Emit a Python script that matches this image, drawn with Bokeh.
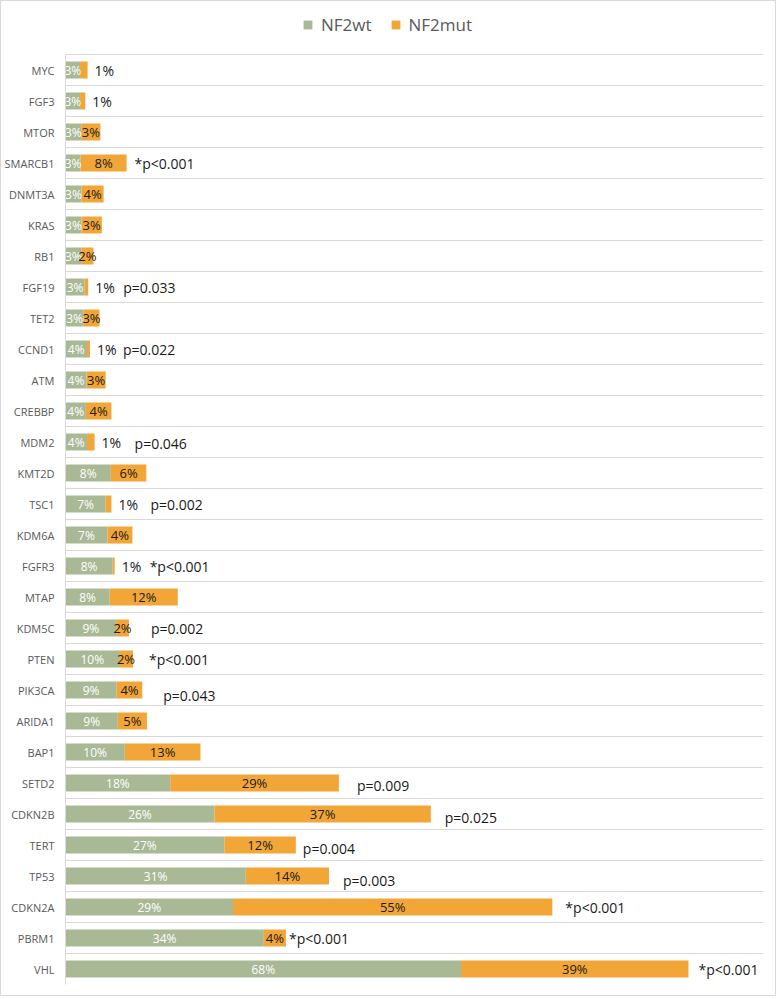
from bokeh.plotting import figure
from bokeh.models import (ColumnDataSource, Range1d, FixedTicker, Legend, LegendItem)
from bokeh.core.properties import value
from bokeh.embed import file_html
from bokeh.resources import INLINE

# ---- data (top to bottom) ----
genes = ["MYC", "FGF3", "MTOR", "SMARCB1", "DNMT3A", "KRAS", "RB1", "FGF19", "TET2",
         "CCND1", "ATM", "CREBBP", "MDM2", "KMT2D", "TSC1", "KDM6A", "FGFR3", "MTAP",
         "KDM5C", "PTEN", "PIK3CA", "ARIDA1", "BAP1", "SETD2", "CDKN2B", "TERT", "TP53",
         "CDKN2A", "PBRM1", "VHL"]
nf2wt = [2.5, 2.5, 2.7, 2.6, 2.75, 2.75, 2.7, 3.3, 3.1, 3.7, 3.6, 3.5, 3.7, 7.8, 6.9,
         7.2, 8.1, 7.6, 8.7, 9.2, 8.8, 9.0, 10.2, 18.0, 25.6, 27.3, 31.0, 28.8, 34.1, 68.0]
nf2mut = [1.3, 0.9, 3.3, 7.9, 3.8, 3.5, 2.1, 0.6, 2.75, 0.5, 3.3, 4.4, 1.3, 6.1, 1.0,
          4.3, 0.35, 11.7, 2.2, 2.4, 4.4, 5.0, 13.0, 29.0, 37.2, 12.3, 14.3, 54.9, 3.8, 39.1]
wt_labels = ["3%", "3%", "3%", "3%", "3%", "3%", "3%", "3%", "3%", "4%", "4%", "4%", "4%",
             "8%", "7%", "7%", "8%", "8%", "9%", "10%", "9%", "9%", "10%", "18%", "26%",
             "27%", "31%", "29%", "34%", "68%"]
mut_labels = ["1%", "1%", "3%", "8%", "4%", "3%", "2%", "1%", "3%", "1%", "3%", "4%", "1%",
              "6%", "1%", "4%", "1%", "12%", "2%", "2%", "4%", "5%", "13%", "29%", "37%",
              "12%", "14%", "55%", "4%", "39%"]
pvalues = ["", "", "", "*p<0.001", "", "", "", "p=0.033", "", "p=0.022", "", "", "p=0.046",
           "", "p=0.002", "", "*p<0.001", "", "p=0.002", "*p<0.001", "p=0.043", "", "",
           "p=0.009", "p=0.025", "p=0.004", "p=0.003", "*p<0.001", "*p<0.001", "*p<0.001"]

# ---- layout helpers (pixels) ----
p_gap = [0, 0, 0, 8, 0, 0, 0, 35, 0, 33, 0, 0, 40, 0, 39, 0, 35, 0, 22, 16, 21, 0, 0,
         18, 14, 7, 14, 13, 3, 10]
p_dy = [0, 0, 0, 0, 0, 0, 0, 0, 0, 0, 0, 0, 1, 0, 0, 0, 0, 0, 0, 0, 5, 0, 0,
        2, 3, 3, 4, 0, 0, 0]

GREEN = "#A9B996"
ORANGE = "#F2A638"
FONT = "Open Sans"
ROW_PX = 31.0
TOP_PX = 53.0   # room for the legend above the first row

n = len(genes)
ypos = list(range(n))
total = [a + b for a, b in zip(nf2wt, nf2mut)]
wt_mid = [a / 2 for a in nf2wt]
mut_mid = [a + b / 2 for a, b in zip(nf2wt, nf2mut)]

src = ColumnDataSource(dict(y=ypos, wt=nf2wt, mut=nf2mut, tot=total,
                            wt_mid=wt_mid, mut_mid=mut_mid,
                            wt_lab=wt_labels, mut_lab=mut_labels,
                            pv=pvalues, gap=p_gap, dy=p_dy))

inside = [i for i in range(n) if mut_labels[i] != "1%"]
outside = [i for i in range(n) if mut_labels[i] == "1%"]
withp = [i for i in range(n) if pvalues[i]]

def sub(idx):
    return ColumnDataSource({k: [v[i] for i in idx] for k, v in src.data.items()})

frame_h = int(n * ROW_PX + TOP_PX)
p = figure(frame_width=698, frame_height=frame_h, output_backend="svg",
           toolbar_location=None,
           x_range=Range1d(0, 120),
           y_range=Range1d(n - 0.5, -0.5 - TOP_PX / ROW_PX),
           min_border_left=64, min_border_right=12, min_border_top=0,
           min_border_bottom=11)
p.outline_line_color = None
p.xaxis.visible = False
p.xgrid.visible = False
p.ygrid.ticker = FixedTicker(ticks=[k - 0.5 for k in range(n + 1)])
p.ygrid.grid_line_color = "#D9D9D9"
p.ygrid.grid_line_width = 1

yax = p.yaxis[0]
yax.ticker = FixedTicker(ticks=ypos)
yax.bounds = (-0.5, n - 0.5)
yax.major_label_overrides = {i: g for i, g in enumerate(genes)}
yax.major_tick_line_color = None
yax.minor_tick_line_color = None
yax.axis_line_color = "#D9D9D9"
yax.major_label_text_font = FONT
yax.major_label_text_font_size = "11px"
yax.major_label_text_color = "#595959"
yax.major_label_standoff = 5

r_wt = p.hbar(y="y", left=0, right="wt", height=0.55, source=src,
              fill_color=GREEN, line_color=None)
r_mut = p.hbar(y="y", left="wt", right="tot", height=0.55, source=src,
               fill_color=ORANGE, line_color=None)

p.text(x="wt_mid", y="y", text="wt_lab", source=src, text_align="center",
       text_baseline="middle", text_color="#FFFFFF", text_font=value(FONT),
       text_font_size="12px")
p.text(x="mut_mid", y="y", text="mut_lab", source=sub(inside), text_align="center",
       text_baseline="middle", text_color="#1A1A1A", text_font=value(FONT),
       text_font_size="13px")
p.text(x="tot", y="y", text="mut_lab", source=sub(outside), x_offset=7,
       text_align="left", text_baseline="middle", text_color="#1A1A1A",
       text_font=value(FONT), text_font_size="14px")
p.text(x="tot", y="y", text="pv", source=sub(withp), x_offset="gap", y_offset="dy",
       text_align="left", text_baseline="middle", text_color="#1A1A1A",
       text_font=value(FONT), text_font_size="14px")

legend = Legend(items=[LegendItem(label="NF2wt", renderers=[r_wt]),
                       LegendItem(label="NF2mut", renderers=[r_mut])],
                orientation="horizontal", location=(237, int(n * ROW_PX) - 35 + 53),
                label_text_font=FONT, label_text_font_size="17px",
                label_text_color="#595959", glyph_width=11, glyph_height=11,
                label_standoff=8, spacing=18, padding=0, margin=0,
                border_line_color=None, background_fill_alpha=0)
p.add_layout(legend)

p.styles = {"border": "1px solid #D9D9D9"}

open("out.html", "w").write(file_html(p, INLINE))
